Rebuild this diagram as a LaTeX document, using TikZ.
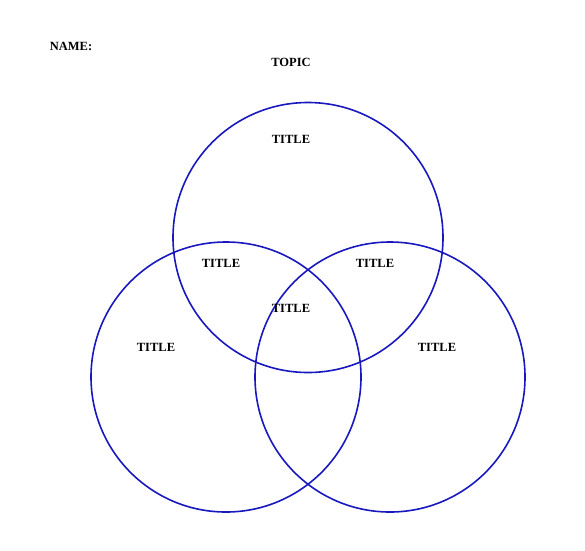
\documentclass[tikz,border=0pt]{standalone}
\usepackage{fontspec}
\setmainfont{Liberation Serif}
\definecolor{ringblue}{RGB}{24,24,190}
\begin{document}
\begin{tikzpicture}[x=1pt,y=-1pt,
  ring/.style={draw=ringblue,line width=1.6pt},
  lbl/.style={font=\fontsize{12.5}{14}\selectfont\bfseries,inner sep=0pt}]
\useasboundingbox (0,0) rectangle (585,550);
\node[lbl] (name) at (71,46) {NAME:};
\node[lbl] (topic) at (291,62) {TOPIC};
\draw[ring] (308,237.5) circle[radius=135];
\draw[ring] (226,377) circle[radius=135];
\draw[ring] (390,377) circle[radius=135];
\node[lbl] (t1) at (291,139) {TITLE};
\node[lbl] (t2) at (221,263) {TITLE};
\node[lbl] (t3) at (375,263) {TITLE};
\node[lbl] (t4) at (291,308) {TITLE};
\node[lbl] (t5) at (156,347) {TITLE};
\node[lbl] (t6) at (437,347) {TITLE};
\end{tikzpicture}
\end{document}
